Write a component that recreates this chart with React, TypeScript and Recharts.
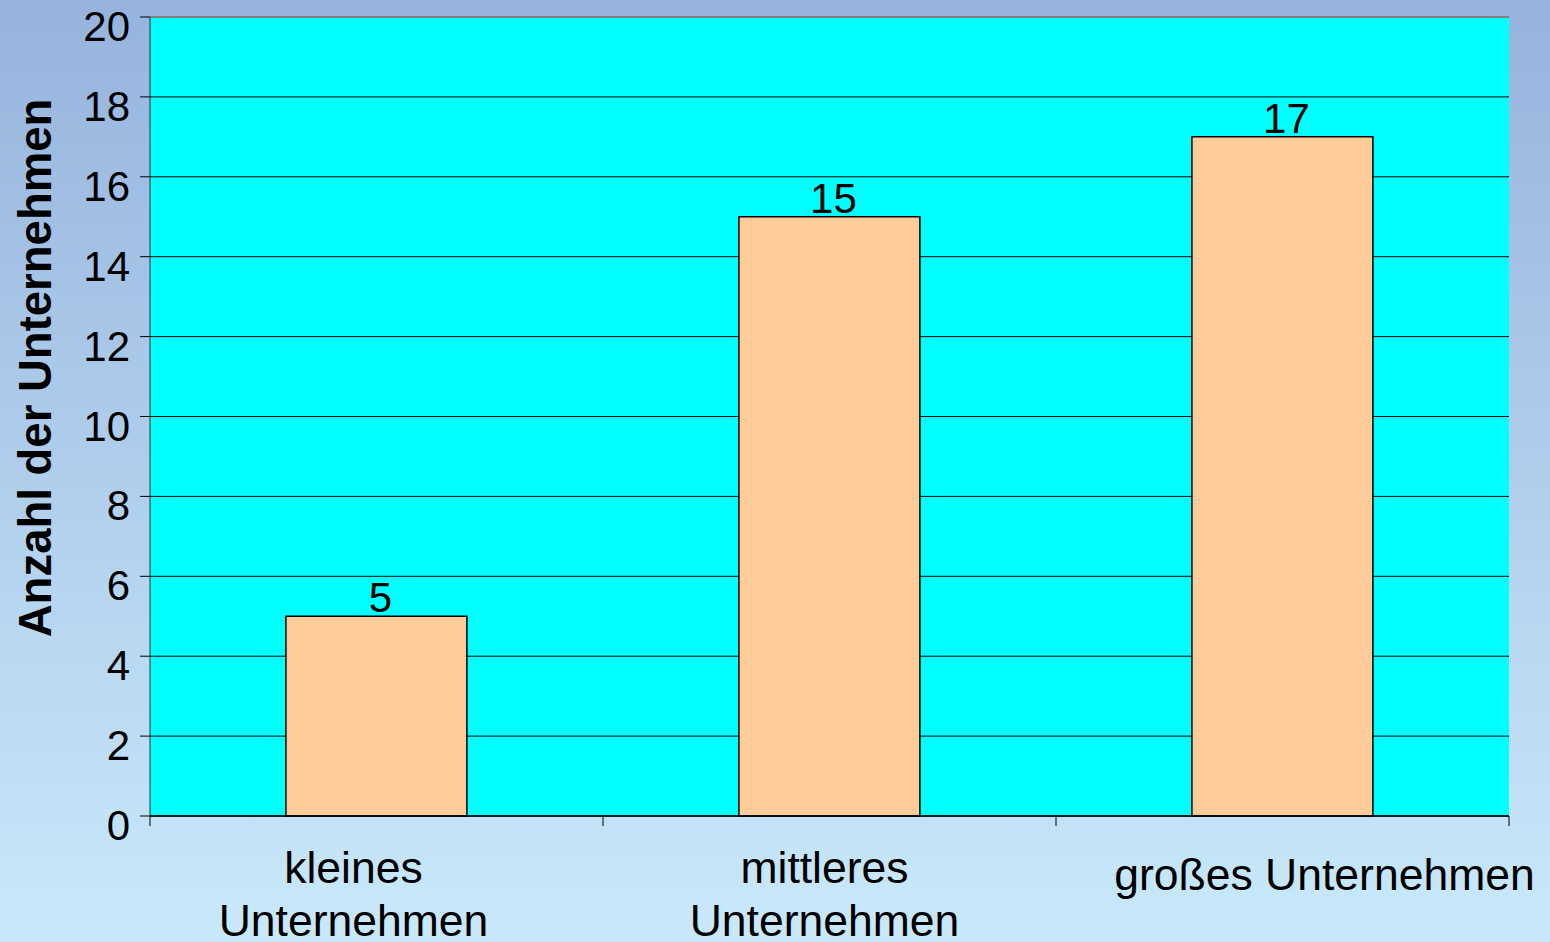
import {
  BarChart,
  Bar,
  XAxis,
  YAxis,
  CartesianGrid,
  LabelList,
  ReferenceLine,
} from 'recharts';

const categories = ['kleines Unternehmen', 'mittleres Unternehmen', 'großes Unternehmen'];
const labelLines = [['kleines', 'Unternehmen'], ['mittleres', 'Unternehmen'], ['großes Unternehmen']];
const counts = [5, 15, 17];
const yTicks = [0, 2, 4, 6, 8, 10, 12, 14, 16, 18, 20];

const data = categories.map((name, i) => ({ name, count: counts[i] }));

const font = '"Liberation Sans", Arial, sans-serif';

const YTick = ({ x, y, payload }: any) => (
  <text x={x} y={y + 24} textAnchor='end' fontSize={42} fontFamily={font} fill='#000'>
    {payload.value}
  </text>
);

// Excel put the labels a bit off the category centres
const labelShift = [-23, -5, 42];

const XTick = ({ x, y, payload, index }: any) => {
  const lines = labelLines[index] || [payload.value];
  const first = lines.length > 1 ? 67 : 74;
  const half = payload.offset || 0;
  return (
    <g>
      {/* tick marks sit on the category boundaries, like Excel */}
      <line x1={x - half} x2={x - half} y1={y} y2={y + 10} stroke='#000' />
      {index === categories.length - 1 && (
        <line x1={x + half} x2={x + half} y1={y} y2={y + 10} stroke='#000' />
      )}
      <text textAnchor='middle' fontSize={44.5} fontFamily={font} fill='#000'>
        {lines.map((l: string, i: number) => (
          <tspan key={i} x={x + labelShift[index]} y={y + first + i * 53}>
            {l}
          </tspan>
        ))}
      </text>
    </g>
  );
};

const YTitle = () => (
  <text
    transform='translate(51,368) rotate(-90)'
    textAnchor='middle'
    fontSize={45.5}
    fontWeight='bold'
    fontFamily={font}
    fill='#000'
  >
    Anzahl der Unternehmen
  </text>
);

const App = () => {
  return (
    <div
      style={{
        position: 'absolute',
        left: 0,
        top: 0,
        width: 1550,
        height: 942,
        background: 'linear-gradient(to bottom, #96B3DD 0%, #C9E9FB 100%)',
      }}
    >
      <BarChart
        width={1550}
        height={942}
        data={data}
        barCategoryGap='30%'
        margin={{ top: 17, right: 41, bottom: 0, left: 0 }}
      >
        <CartesianGrid vertical={false} stroke='#000' fill='#00FFFF' fillOpacity={1} />
        <XAxis
          dataKey='name'
          height={126}
          interval={0}
          tickLine={false}
          tickSize={0}
          tickMargin={0}
          axisLine={{ stroke: '#000', strokeWidth: 1.5 }}
          tick={<XTick />}
        />
        <YAxis
          width={150}
          domain={[0, 20]}
          ticks={yTicks}
          interval={0}
          tickSize={10}
          tickMargin={10}
          tickLine={{ stroke: '#000' }}
          axisLine={{ stroke: '#333' }}
          tick={<YTick />}
          label={<YTitle />}
        />
        <YAxis
          yAxisId='right'
          orientation='right'
          width={0}
          domain={[0, 20]}
          tick={false}
          tickLine={false}
          axisLine={{ stroke: '#808080', strokeWidth: 2 }}
        />
        <ReferenceLine y={20} stroke='#808080' strokeWidth={2} />
        <Bar dataKey='count' fill='#FFCC99' stroke='#000' strokeWidth={1.5} isAnimationActive={false}>
          <LabelList
            dataKey='count'
            position='top'
            offset={4}
            fontSize={42}
            fontFamily={font}
            fill='#000'
            dx={4}
          />
        </Bar>
      </BarChart>
    </div>
  );
};

export default App;
